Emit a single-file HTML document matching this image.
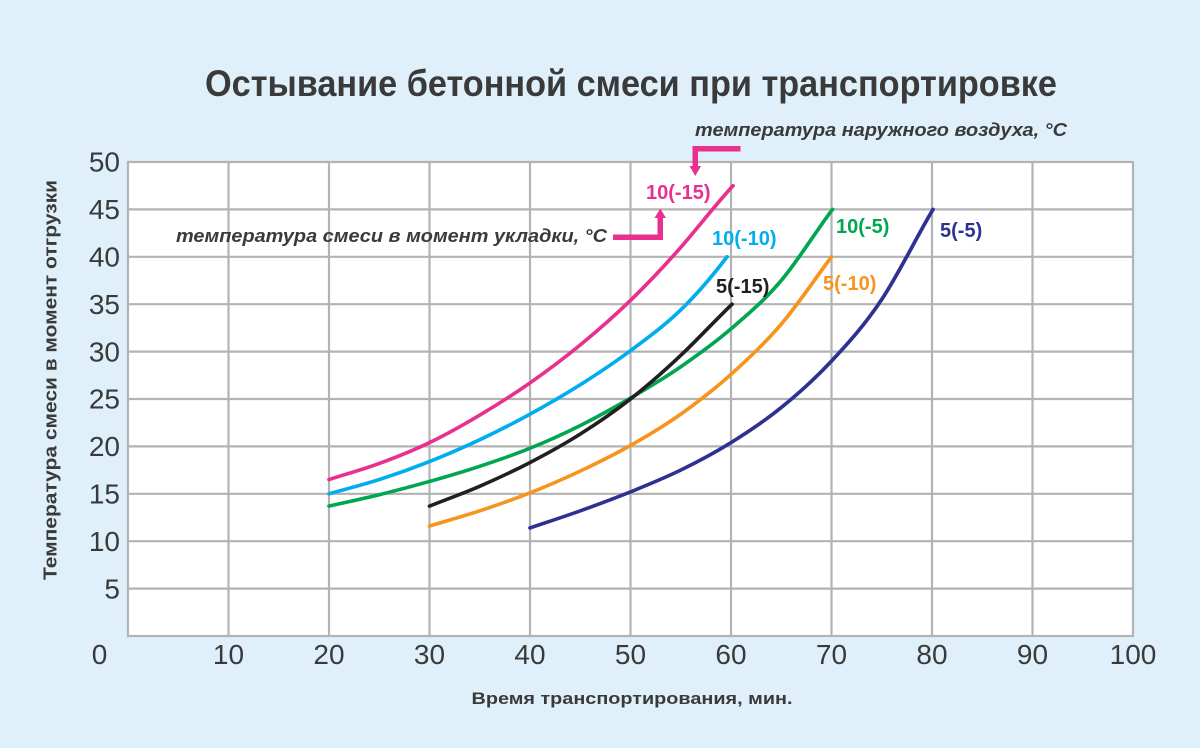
<!DOCTYPE html>
<html><head><meta charset="utf-8"><style>
html,body{margin:0;padding:0;background:#dff0fa;}
svg{display:block;}
text{font-family:"Liberation Sans",Arial,sans-serif;}
</style></head><body>
<svg width="1200" height="748" viewBox="0 0 1200 748" xmlns="http://www.w3.org/2000/svg">
<rect x="0" y="0" width="1200" height="748" fill="#dff0fa"/>
<text x="631" y="96" font-size="37" font-weight="bold" fill="#3a3a3a" text-anchor="middle" textLength="852" lengthAdjust="spacingAndGlyphs">Остывание бетонной смеси при транспортировке</text>
<rect x="128" y="162" width="1005" height="474" fill="#ffffff"/>
<g stroke="#b3b3b3" stroke-width="2.2" fill="none">
<path d="M228.5 162V636M329 162V636M429.5 162V636M530 162V636M630.5 162V636M731 162V636M831.5 162V636M932 162V636M1032.5 162V636"/>
<path d="M128 209.4H1133M128 256.8H1133M128 304.2H1133M128 351.6H1133M128 399H1133M128 446.4H1133M128 493.8H1133M128 541.2H1133M128 588.6H1133"/>
<rect x="128" y="162" width="1005" height="474"/>
</g>
<g font-size="28" fill="#3a3a3a" text-anchor="end">
<text x="120" y="171.7">50</text>
<text x="120" y="219.1">45</text>
<text x="120" y="266.5">40</text>
<text x="120" y="313.9">35</text>
<text x="120" y="361.3">30</text>
<text x="120" y="408.7">25</text>
<text x="120" y="456.1">20</text>
<text x="120" y="503.5">15</text>
<text x="120" y="550.9">10</text>
<text x="120" y="598.3">5</text>
</g>
<g font-size="28" fill="#3a3a3a" text-anchor="middle">
<text x="99.5" y="664">0</text>
<text x="228.5" y="664">10</text>
<text x="329" y="664">20</text>
<text x="429.5" y="664">30</text>
<text x="530" y="664">40</text>
<text x="630.5" y="664">50</text>
<text x="731" y="664">60</text>
<text x="831.5" y="664">70</text>
<text x="932" y="664">80</text>
<text x="1032.5" y="664">90</text>
<text x="1133" y="664">100</text>
</g>
<text x="632" y="704" font-size="17" font-weight="bold" fill="#3a3a3a" text-anchor="middle" textLength="321" lengthAdjust="spacingAndGlyphs">Время транспортирования, мин.</text>
<text transform="translate(56.5,380) rotate(-90)" x="0" y="0" font-size="18" font-weight="bold" fill="#3a3a3a" text-anchor="middle" textLength="400" lengthAdjust="spacingAndGlyphs">Температура смеси в момент отгрузки</text>

<g fill="none" stroke-width="3.75" stroke-linecap="round" transform="matrix(1.005,0,0,-0.948,128,636)">
<path stroke="#e8318f" d="M200 165C216.67 170.67 233.33 175.5 250 182C266.67 188.5 283.33 195.5 300 204C316.67 212.5 333.33 222.5 350 233C366.67 243.5 383.33 254.67 400 267C416.67 279.33 433.33 292.5 450 307C466.67 321.5 483.33 336.83 500 354C516.67 371.17 533.33 389.83 550 410C566.67 430.17 583.33 453.33 602 475"/>
<path stroke="#00aeef" d="M200 150C216.67 155 233.33 159.33 250 165C266.67 170.67 283.33 177 300 184C316.67 191 333.33 198.67 350 207C366.67 215.33 383.33 224.33 400 234C416.67 243.67 433.33 253.83 450 265C466.67 276.17 483.33 287.83 500 301C516.67 314.17 533.33 326.81 550 344C565.33 359.81 580.67 378.48 596 400"/>
<path stroke="#00a651" d="M200 137C216.67 141 233.33 144.67 250 149C266.67 153.33 283.33 158 300 163C316.67 168 333.33 173.17 350 179C366.67 184.83 383.33 190.83 400 198C416.67 205.17 433.33 213.17 450 222C466.67 230.83 483.33 240.67 500 251C516.67 261.33 533.33 271.83 550 284C566.67 296.17 583.33 308.83 600 324C616.67 339.17 633.33 354 650 375C666.67 396 683.33 425 701 450"/>
<path stroke="#231f20" d="M300 137C316.67 144 333.33 150.33 350 158C366.67 165.67 383.33 173.83 400 183C416.67 192.17 433.33 201.83 450 213C466.67 224.17 483.33 236.17 500 250C516.67 263.83 533.33 279.33 550 296C566.67 312.67 583.33 332 601 350"/>
<path stroke="#f7941d" d="M300 116C316.67 121.33 333.33 126.17 350 132C366.67 137.83 383.33 144 400 151C416.67 158 433.33 165.67 450 174C466.67 182.33 483.33 191 500 201C516.67 211 533.33 221.5 550 234C566.67 246.5 583.33 260.17 600 276C616.67 291.83 633.33 308.33 650 329C666.67 349.67 683.33 376.33 700 400"/>
<path stroke="#2e3192" d="M400 114C416.67 120 433.33 125.67 450 132C466.67 138.33 483.33 144.83 500 152C516.67 159.17 533.33 166.33 550 175C566.67 183.67 583.33 193 600 204C616.67 215 633.33 226.67 650 241C666.67 255.33 683.33 271 700 290C716.67 309 733.33 328.33 750 355C766.67 381.67 783.33 418.33 801 450"/>
</g>

<g font-size="20" font-weight="bold">
<text x="646" y="199" fill="#e8318f">10(-15)</text>
<text x="712" y="245" fill="#00aeef">10(-10)</text>
<text x="836" y="233" fill="#00a651">10(-5)</text>
<text x="716" y="293" fill="#231f20">5(-15)</text>
<text x="823" y="290" fill="#f7941d">5(-10)</text>
<text x="940" y="237" fill="#2e3192">5(-5)</text>
</g>

<text x="695" y="136" font-size="18" font-weight="bold" font-style="italic" fill="#3a3a3a" textLength="372" lengthAdjust="spacingAndGlyphs">температура наружного воздуха, °С</text>
<text x="176" y="242" font-size="18" font-weight="bold" font-style="italic" fill="#3a3a3a" textLength="431" lengthAdjust="spacingAndGlyphs">температура смеси в момент укладки, °С</text>

<g fill="#e8318f">
<rect x="692.5" y="146" width="48" height="5.5"/>
<rect x="692.5" y="146" width="5.5" height="22"/>
<polygon points="689.5,166 701,166 695.25,176"/>
<rect x="613" y="234.5" width="50" height="5.5"/>
<rect x="657.5" y="216" width="5.5" height="24"/>
<polygon points="654.5,218 666,218 660.25,208.5"/>
</g>
</svg>
</body></html>
